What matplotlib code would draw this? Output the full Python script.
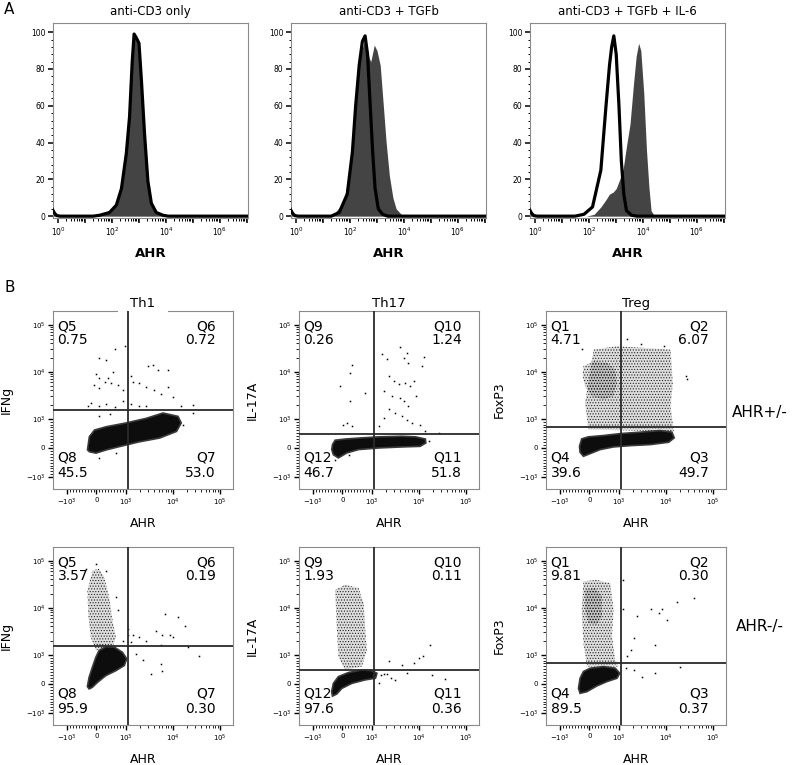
import matplotlib
matplotlib.use('Agg')
import matplotlib.pyplot as plt
import numpy as np
from matplotlib.patches import Polygon
from matplotlib.ticker import FixedLocator, NullFormatter, FixedFormatter

plt.rcParams['font.family'] = ['DejaVu Sans']
plt.rcParams['hatch.linewidth'] = 0.5

# ================= Panel A : AHR histograms =================
hist_titles = ['anti-CD3 only', 'anti-CD3 + TGFb', 'anti-CD3 + TGFb + IL-6']

# filled (sample) histograms: AHR intensity vs % of max
h1_fill_x = [0.6, 0.75, 0.9, 1.2, 20, 35, 81, 145, 224, 339, 447, 562, 646, 794, 1000, 1230, 1620, 2140, 2880, 4370, 7760, 12000, 1.2e7]
h1_fill_y = [4, 1.5, 0.3, 0, 0, 0.5, 2, 6, 15, 35, 55, 85, 100, 97, 95, 75, 45, 20, 7, 2, 0.5, 0, 0]
h2_fill_x = [0.6, 0.75, 0.9, 1.2, 12, 25, 60, 123, 186, 251, 363, 513, 589, 794, 1000, 1320, 1620, 2190, 2880, 3890, 5130, 7940, 12000, 1.2e7]
h2_fill_y = [4, 1.5, 0.3, 0, 0, 1, 8, 35, 75, 88, 97, 86, 84, 93, 90, 82, 65, 40, 22, 10, 4, 1, 0, 0]
h3_fill_x = [0.6, 0.75, 0.9, 1.2, 80, 155, 275, 427, 575, 776, 1020, 1380, 1860, 2450, 3310, 4470, 5620, 6920, 8320, 10700, 13500, 16600, 20000, 26300, 40000, 1.2e7]
h3_fill_y = [4, 1.5, 0.3, 0, 0, 1, 5, 9, 12, 13, 15, 20, 26, 38, 50, 72, 87, 94, 90, 67, 36, 16, 3, 0.3, 0, 0]

# outline (control) histograms
h1_line_x = [0.6, 0.75, 0.9, 1.2, 20, 35, 81, 145, 224, 339, 447, 562, 660, 794, 1000, 1230, 1620, 2140, 2880, 4370, 7760, 12000, 1.2e7]
h1_line_y = [4, 1.5, 0.3, 0, 0, 0.5, 2, 6, 15, 34, 54, 84, 99, 97, 94, 74, 44, 19, 7, 2, 0.5, 0, 0]
h2_line_x = [0.6, 0.75, 0.9, 1.2, 20, 40, 79, 123, 162, 219, 288, 363, 447, 562, 692, 851, 1120, 1620, 2510, 1.2e7]
h2_line_y = [4, 1.5, 0.3, 0, 0, 2, 12, 35, 60, 82, 95, 98, 88, 60, 35, 15, 4, 1, 0, 0]
h3_line_x = [0.6, 0.75, 0.9, 1.2, 30, 65, 135, 275, 427, 575, 692, 832, 1020, 1290, 1580, 1950, 2450, 3800, 6000, 1.2e7]
h3_line_y = [4, 1.5, 0.3, 0, 0, 1, 5, 25, 60, 82, 92, 98, 88, 60, 30, 12, 3, 0.5, 0, 0]

hist_fill_x = [h1_fill_x, h2_fill_x, h3_fill_x]
hist_fill_y = [h1_fill_y, h2_fill_y, h3_fill_y]
hist_line_x = [h1_line_x, h2_line_x, h3_line_x]
hist_line_y = [h1_line_y, h2_line_y, h3_line_y]

hist_yticks = [0, 20, 40, 60, 80, 100]
hist_xticks_major = [1e0, 1e1, 1e2, 1e3, 1e4, 1e5, 1e6, 1e7]
hist_xticklabels = ['$10^0$', '', '$10^2$', '', '$10^4$', '', '$10^6$', '']

# ================= Panel B : quadrant dot plots =================
col_titles = ['Th1', 'Th17', 'Treg']
col_ylabels = ['IFNg', 'IL-17A', 'FoxP3']
row_labels = ['AHR+/-', 'AHR-/-']
gate_x = [1100, 1100, 1100]
gate_y = [1500, 470, 720]

quad_names = [['Q5', 'Q6', 'Q8', 'Q7'], ['Q9', 'Q10', 'Q12', 'Q11'], ['Q1', 'Q2', 'Q4', 'Q3']]
quad_pos = [['0.75', '0.72', '45.5', '53.0'], ['0.26', '1.24', '46.7', '51.8'], ['4.71', '6.07', '39.6', '49.7']]
quad_neg = [['3.57', '0.19', '95.9', '0.30'], ['1.93', '0.11', '97.6', '0.36'], ['9.81', '0.30', '89.5', '0.37']]

# ---- AHR+/- Th1 ----
th1p_core_x = [-306, -242, -65, 339, 1020, 2750, 6170, 12900, 15100, 12000, 5250, 1950, 790, 339, -16, -242]
th1p_core_y = [-65, 387, 613, 726, 855, 1020, 1320, 1120, 855, 565, 339, 210, 48, -65, -177, -129]
th1p_pts_x = [100, 330, 620, 960, -10, 100, 275, -70, 100, 390, 500, 560, 730, 900, 1320, 1410, 1950, 2750, 2950, 3800,
              4790, 7940, 4070, 5750, 7940, 10000, 15100, 100, 330, 620, 900, 1320, 1950, 26900, 26900, -290, 2750, -180,
              -240, 100, 680, 16600, 100, 450, 8510]
th1p_pts_y = [19500, 17800, 30200, 34700, 8900, 7240, 6170, 5250, 4470, 7240, 5750, 10000, 5250, 4070, 7940, 6170, 5750,
              4790, 12900, 14100, 11000, 11000, 4070, 3390, 4680, 2950, 1860, 1820, 2090, 1780, 2340, 2090, 1820, 1950,
              1320, 1820, 1820, 2130, 100, -355, -160, 790, 1120, 1260, 1020]

# ---- AHR+/- Th17 ----
th17p_core_x = [-340, -250, 90, 665, 1410, 4370, 8510, 13800, 14100, 10700, 4370, 1410, 550, 150, -140, -310, -365]
th17p_core_y = [115, 265, 305, 345, 380, 400, 380, 305, 170, 55, 35, 0, -55, -170, -340, -230, -55]
th17p_pts_x = [-80, 265, 320, 775, 265, 30, 150, 320, 1660, 2090, 4070, 4790, 5620, 6030, 12600, 2290, 2950, 3720, 5130,
               6610, 7760, 11700, 1780, 2690, 4070, 4790, 6030, 8510, 2290, 3160, 4370, 5620, 7240, 1780, 1410, 10700,
               26300, 13800, -250, 210, 16200]
th17p_pts_y = [4900, 9550, 14100, 3550, 2340, 800, 855, 740, 23400, 18200, 33100, 19500, 25100, 15500, 20900, 7940, 6310,
               5370, 5750, 4900, 6310, 13200, 3890, 3020, 2750, 2340, 1860, 3020, 1580, 1320, 1120, 970, 855, 1040, 740,
               800, 515, 565, -400, -230, 225]

# ---- AHR+/- Treg ----
tregp_core_x = [-340, -265, -35, 480, 1070, 2880, 7590, 13500, 15100, 11500, 4680, 1780, 820, 370, 20, -205, -320]
tregp_core_y = [55, 310, 380, 425, 490, 540, 595, 540, 345, 195, 115, 80, 35, -55, -195, -285, -150]
tregp_diff_x = [140, 935, 2880, 12600, 14100, 12600, 14800, -35, -150]
tregp_diff_y = [29500, 34700, 32400, 29500, 5750, 1860, 565, 630, 2190]
tregp_dense_x = [-205, 140, 595, 880, 935, 820, 480, 80, -150, -230]
tregp_dense_y = [13200, 16600, 15500, 11200, 5750, 3020, 2570, 3020, 4900, 7940]
tregp_pts_x = [1480, 26300, 28000, -250, 3000, 9000]
tregp_pts_y = [50000, 7940, 6900, 30000, 38000, 36000]

# ---- AHR-/- Th1 ----
th1n_core_x = [-310, -250, -140, -20, 90, 320, 610, 890, 1050, 950, 665, 320, 35, -140, -250]
th1n_core_y = [-90, 230, 570, 915, 1230, 1480, 1450, 1120, 860, 630, 455, 285, 55, -115, -170]
th1n_diff_x = [-310, -140, 90, 265, 435, 550, 665, 550, -20, -195, -275]
th1n_diff_y = [23400, 61700, 67600, 44700, 16600, 5370, 2340, 1450, 1230, 2340, 6310]
th1n_pts_x = [1410, 1950, 4370, 6760, 12600, 17800, 6030, 8510, 10000, 2690, 5620, 20900, 36300, 5620, 6030, 3460, 1100,
              1100, 1290, 1660, 2290, -20, 320, -370, 665, 725, 890]
th1n_pts_y = [2570, 2340, 3240, 7240, 6460, 3980, 2570, 2570, 2340, 2000, 1580, 1480, 970, 690, 455, 340, 3550, 2570,
              1860, 1040, 805, 85100, 61700, 67600, 16600, 8710, 2000]

# ---- AHR-/- Th17 ----
th17n_core_x = [-370, -310, -140, 205, 665, 1000, 1290, 1200, 780, 320, -20, -195, -340]
th17n_core_y = [-260, 20, 250, 390, 480, 455, 365, 195, 140, 20, -150, -345, -415]
th17n_diff_x = [-250, 90, 550, 725, 780, 835, 665, 90, -140, -195]
th17n_diff_y = [24000, 30900, 26300, 12600, 3390, 1260, 595, 480, 940, 3980]
th17n_pts_x = [1580, 1780, 2100, 3160, 5620, 19100, 36300, 2290, 4370, 7760, 10000, 12000, 17400, 1450, 2600]
th17n_pts_y = [305, 340, 330, 140, 365, 290, 160, 775, 645, 710, 890, 940, 1620, 20, 200]

# ---- AHR-/- Treg ----
tregn_core_x = [-375, -320, -205, 25, 480, 880, 1050, 940, 595, 250, -90, -320]
tregn_core_y = [-150, 195, 425, 540, 595, 540, 365, 195, 80, -70, -265, -320]
tregn_diff_x = [-205, 250, 710, 825, 770, 880, 1000, -90, -205, -265]
tregn_diff_y = [36300, 38900, 33100, 9330, 2450, 825, 595, 595, 1780, 9330]
tregn_dense_x = [-150, 195, 425, 425, 250, -35, -150]
tregn_dense_y = [24000, 26300, 17400, 6460, 4370, 4680, 9330]
tregn_pts_x = [1260, 1260, 2450, 4790, 7080, 8320, 10700, 17400, 38900, 6030, 2090, 1780, 1480, 1410, 2090, 3090, 6030,
               20400]
tregn_pts_y = [38000, 9330, 6760, 9330, 7590, 9330, 5500, 13500, 15800, 1620, 2240, 1260, 940, 540, 480, 250, 365, 595]

pos_core = [(th1p_core_x, th1p_core_y), (th17p_core_x, th17p_core_y), (tregp_core_x, tregp_core_y)]
neg_core = [(th1n_core_x, th1n_core_y), (th17n_core_x, th17n_core_y), (tregn_core_x, tregn_core_y)]
pos_diff = [[], [], [(tregp_diff_x, tregp_diff_y), (tregp_dense_x, tregp_dense_y)]]
neg_diff = [[(th1n_diff_x, th1n_diff_y)], [(th17n_diff_x, th17n_diff_y)],
            [(tregn_diff_x, tregn_diff_y), (tregn_dense_x, tregn_dense_y)]]
pos_pts = [(th1p_pts_x, th1p_pts_y), (th17p_pts_x, th17p_pts_y), (tregp_pts_x, tregp_pts_y)]
neg_pts = [(th1n_pts_x, th1n_pts_y), (th17n_pts_x, th17n_pts_y), (tregn_pts_x, tregn_pts_y)]

flow_ticks = [-1000, 0, 1000, 10000, 100000]
flow_ticklabels = ['$-10^3$', '0', '$10^3$', '$10^4$', '$10^5$']

# ================= Figure =================
W, H = 800, 765
fig = plt.figure(figsize=(W / 100, H / 100), dpi=100)


def frac(left, top, width, height):
    return [left / W, 1 - (top + height) / H, width / W, height / H]


hist_lefts = [53, 291, 530]
for i in range(3):
    ax = fig.add_axes(frac(hist_lefts[i], 23, 195, 195))
    ax.set_xscale('log')
    ax.fill_between(hist_fill_x[i], hist_fill_y[i], 0, color='#444444', lw=0, zorder=2)
    ax.plot(hist_line_x[i], hist_line_y[i], color='black', lw=2.3, solid_joinstyle='round', zorder=3)
    ax.set_xlim(0.65, 1.1e7)
    ax.set_ylim(-1, 105)
    ax.set_title(hist_titles[i], fontsize=8.5, pad=6)
    ax.set_xlabel('AHR', fontsize=9.5, fontweight='bold')
    ax.xaxis.set_label_coords(0.5, -0.15)
    ax.yaxis.set_major_locator(FixedLocator(hist_yticks))
    ax.yaxis.set_minor_locator(FixedLocator(list(range(0, 104, 4))))
    ax.xaxis.set_major_locator(FixedLocator(hist_xticks_major))
    ax.xaxis.set_major_formatter(FixedFormatter(hist_xticklabels))
    minor = [m * 10.0 ** e for e in range(0, 7) for m in range(2, 10)]
    ax.xaxis.set_minor_locator(FixedLocator(minor))
    ax.xaxis.set_minor_formatter(NullFormatter())
    ax.tick_params(axis='both', which='major', labelsize=5.5, length=3.5, width=1.1, direction='out', pad=2)
    ax.tick_params(axis='both', which='minor', length=1.8, width=0.7, direction='out')
    for s in ax.spines.values():
        s.set_color('#8a8a8a')
        s.set_linewidth(0.8)

flow_lefts = [53, 299, 546]
row_tops = [311, 547]
minor_flow = ([-v for v in range(100, 1000, 100)] + list(range(100, 1000, 100)) +
              [m * 10.0 ** e for e in (3, 4) for m in range(2, 10)])

for r in range(2):
    for c in range(3):
        ax = fig.add_axes(frac(flow_lefts[c], row_tops[r], 180, 178))
        ax.set_xscale('symlog', linthresh=1000, linscale=0.56)
        ax.set_yscale('symlog', linthresh=1000, linscale=0.56)
        ax.set_xlim(-2000, 1.9e5)
        ax.set_ylim(-1780, 1.95e5)
        diffs = pos_diff[c] if r == 0 else neg_diff[c]
        for dx, dy in diffs:
            ax.add_patch(Polygon(np.column_stack([dx, dy]), closed=True, facecolor=(0, 0, 0, 0.13),
                                 edgecolor='#222222', lw=0, hatch='......', zorder=2))
        cx, cy = pos_core[c] if r == 0 else neg_core[c]
        ax.add_patch(Polygon(np.column_stack([cx, cy]), closed=True, facecolor='#0d0d0d',
                             edgecolor='#3a3a3a', lw=1.2, zorder=3))
        px, py = pos_pts[c] if r == 0 else neg_pts[c]
        ax.plot(px, py, linestyle='none', marker='s', ms=1.1, mew=0, color='black', zorder=3)
        ax.axvline(gate_x[c], color='#2a2a2a', lw=1.3, zorder=4)
        ax.axhline(gate_y[c], color='#2a2a2a', lw=1.3, zorder=4)

        ax.xaxis.set_major_locator(FixedLocator(flow_ticks))
        ax.yaxis.set_major_locator(FixedLocator(flow_ticks))
        ax.xaxis.set_major_formatter(FixedFormatter(flow_ticklabels))
        ax.yaxis.set_major_formatter(FixedFormatter(flow_ticklabels))
        ax.xaxis.set_minor_locator(FixedLocator(minor_flow))
        ax.yaxis.set_minor_locator(FixedLocator(minor_flow))
        ax.xaxis.set_minor_formatter(NullFormatter())
        ax.yaxis.set_minor_formatter(NullFormatter())
        ax.tick_params(axis='both', which='major', labelsize=5, length=3.5, width=1.0, direction='out', pad=2)
        ax.tick_params(axis='both', which='minor', length=2, width=0.6, direction='out')
        for s in ax.spines.values():
            s.set_color('#8a8a8a')
            s.set_linewidth(0.8)

        ax.set_xlabel('AHR', fontsize=9)
        ax.xaxis.set_label_coords(0.5, -0.155)
        ax.set_ylabel(col_ylabels[c], fontsize=9)
        ax.yaxis.set_label_coords(-0.225, 0.5)

        vals = quad_pos[c] if r == 0 else quad_neg[c]
        names = quad_names[c]
        tk = dict(transform=ax.transAxes, fontsize=10, va='center', zorder=5)
        ax.text(0.025, 0.915, names[0], ha='left', **tk)
        ax.text(0.025, 0.835, vals[0], ha='left', **tk)
        ax.text(0.905, 0.915, names[1], ha='right', **tk)
        ax.text(0.905, 0.835, vals[1], ha='right', **tk)
        ax.text(0.025, 0.175, names[2], ha='left', **tk)
        ax.text(0.025, 0.09, vals[2], ha='left', **tk)
        ax.text(0.905, 0.175, names[3], ha='right', **tk)
        ax.text(0.905, 0.09, vals[3], ha='right', **tk)

        if r == 0:
            if c == 0:
                ax.set_title(col_titles[c], fontsize=9.5, pad=3,
                             bbox=dict(facecolor='white', edgecolor='none', pad=9))
            else:
                ax.set_title(col_titles[c], fontsize=9.5, pad=3)

fig.text(732 / W, 1 - 413 / H, row_labels[0], fontsize=11, va='center', ha='left')
fig.text(736 / W, 1 - 627 / H, row_labels[1], fontsize=11, va='center', ha='left')
fig.text(4 / W, 1 - 9 / H, 'A', fontsize=11, va='center', ha='left')
fig.text(4 / W, 1 - 287 / H, 'B', fontsize=11, va='center', ha='left')

fig.savefig('out.png', dpi=100)
